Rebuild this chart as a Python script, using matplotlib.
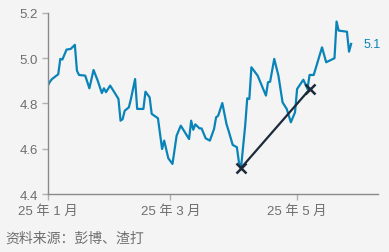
import matplotlib
matplotlib.use("Agg")
import matplotlib.pyplot as plt
import pandas as pd

plt.rcParams["font.family"] = ["Liberation Sans", "Noto Sans CJK SC", "DejaVu Sans"]

# ---------- data ----------
dates = ["2025-01-01", "2025-01-02", "2025-01-03", "2025-01-06", "2025-01-07", "2025-01-08",
         "2025-01-10", "2025-01-12", "2025-01-14", "2025-01-15", "2025-01-16", "2025-01-19",
         "2025-01-21", "2025-01-23", "2025-01-25", "2025-01-27", "2025-01-28", "2025-01-29",
         "2025-01-31", "2025-02-03", "2025-02-04", "2025-02-05", "2025-02-06", "2025-02-07",
         "2025-02-09", "2025-02-10", "2025-02-12", "2025-02-13", "2025-02-16", "2025-02-17",
         "2025-02-19", "2025-02-20", "2025-02-23", "2025-02-25", "2025-02-26", "2025-02-28",
         "2025-03-02", "2025-03-04", "2025-03-06", "2025-03-10", "2025-03-11", "2025-03-12",
         "2025-03-13", "2025-03-15", "2025-03-16", "2025-03-18", "2025-03-20", "2025-03-22",
         "2025-03-23", "2025-03-24", "2025-03-26", "2025-03-28", "2025-03-29", "2025-03-31",
         "2025-04-02", "2025-04-03", "2025-04-04", "2025-04-06", "2025-04-07", "2025-04-08",
         "2025-04-09", "2025-04-12", "2025-04-14", "2025-04-16", "2025-04-17", "2025-04-18",
         "2025-04-20", "2025-04-22", "2025-04-24", "2025-04-26", "2025-04-28", "2025-04-30",
         "2025-05-01", "2025-05-04", "2025-05-06", "2025-05-07", "2025-05-09", "2025-05-13",
         "2025-05-15", "2025-05-19", "2025-05-20", "2025-05-21", "2025-05-25", "2025-05-26",
         "2025-05-27"]
values = [4.879, 4.896, 4.908, 4.929, 4.997, 4.994,
          5.038, 5.041, 5.059, 4.945, 4.926, 4.923,
          4.867, 4.948, 4.901, 4.846, 4.867, 4.850,
          4.879, 4.835, 4.820, 4.724, 4.731, 4.768,
          4.783, 4.820, 4.908, 4.776, 4.776, 4.852,
          4.827, 4.754, 4.735, 4.599, 4.636, 4.558,
          4.533, 4.658, 4.702, 4.643, 4.724, 4.684,
          4.708, 4.690, 4.690, 4.646, 4.636, 4.687,
          4.739, 4.746, 4.802, 4.709, 4.680, 4.617,
          4.607, 4.540, 4.515, 4.702, 4.823, 4.820,
          4.960, 4.923, 4.879, 4.835, 4.894, 4.896,
          4.997, 4.923, 4.805, 4.776, 4.717, 4.761,
          4.864, 4.905, 4.864, 4.926, 4.926, 5.048,
          4.982, 5.000, 5.162, 5.122, 5.117, 5.029,
          5.063]
trend_dates = ["2025-04-04", "2025-05-07"]
trend_values = [4.515, 4.862]
last_label = "5.1"
xtick_dates = ["2025-01-01", "2025-03-01", "2025-05-01"]
xtick_labels = ["25 年 1 月", "25 年 3 月", "25 年 5 月"]
yticks = [4.4, 4.6, 4.8, 5.0, 5.2]
source = "资料来源：彭博、渣打"

BG = "#f4f4f4"
BLUE = "#0a84b8"
NAVY = "#1c2a3a"
GREY = "#6e6e6e"

x = pd.to_datetime(dates)
tx = pd.to_datetime(trend_dates)

fig = plt.figure(figsize=(3.89, 2.53), dpi=100, facecolor=BG)
ax = fig.add_axes([0.123, 0.229, 0.849, 0.716], facecolor=BG)

ax.plot(x, values, color=BLUE, lw=1.6, solid_joinstyle="round")
ax.plot(tx, trend_values, color=NAVY, lw=1.6, marker="x", ms=7, mew=1.8)
ax.annotate(last_label, xy=(x[-1], values[-1]), xytext=(9, 0), textcoords="offset points",
            va="center", ha="left", color=BLUE, fontsize=9)

ax.set_xlim(pd.Timestamp("2025-01-01"), pd.Timestamp("2025-06-09"))
ax.set_ylim(4.4, 5.2)
ax.set_xticks(pd.to_datetime(xtick_dates))
ax.set_xticklabels(xtick_labels)
ax.set_yticks(yticks)
ax.set_yticklabels([f"{v:.1f}" for v in yticks])

for s in ("top", "right"):
    ax.spines[s].set_visible(False)
for s in ("left", "bottom"):
    ax.spines[s].set_color("#8a8a8a")
    ax.spines[s].set_linewidth(1.0)
ax.tick_params(axis="both", colors="#b0b0b0", labelcolor=GREY, labelsize=9.5,
               length=4, width=1, pad=3)

fig.text(0.015, 0.055, source, color=GREY, fontsize=10, va="center", ha="left")

fig.savefig("out.png", dpi=100, facecolor=BG)
